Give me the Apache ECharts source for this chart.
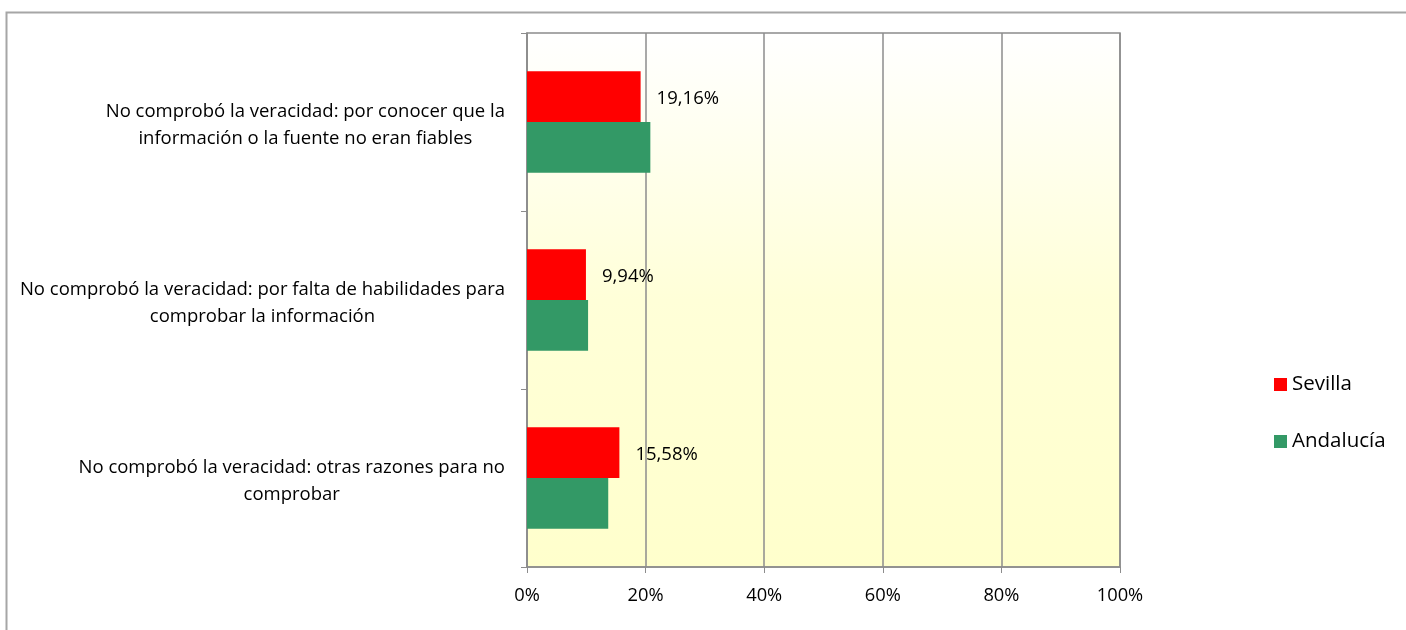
<!DOCTYPE html>
<html>
<head>
<meta charset="utf-8">
<script src="https://cdn.jsdelivr.net/npm/echarts@6/dist/echarts.min.js"></script>
<style>
html,body{margin:0;padding:0;background:#fff;}
#chart{width:1406px;height:630px;}
</style>
</head>
<body>
<div id="chart"></div>
<script>
const categories = [
  'No comprobó la veracidad: por conocer que la\ninformación o la fuente no eran fiables',
  'No comprobó la veracidad: por falta de habilidades para\ncomprobar la información',
  'No comprobó la veracidad: otras razones para no\ncomprobar'
];
const sevilla = [19.16, 9.94, 15.58];
const andalucia = [20.8, 10.3, 13.7];
const xTicks = [0, 20, 40, 60, 80, 100];

const FONT = 'Open Sans';
const chart = echarts.init(document.getElementById('chart'));
chart.setOption({
  animation: false,
  textStyle: { fontFamily: FONT },
  graphic: [{
    type: 'rect', left: 4, top: 10, z: -10,
    shape: { width: 1440, height: 660 },
    style: { fill: 'none', stroke: '#a6a6a6', lineWidth: 2 }
  }],
  grid: {
    left: 527, right: 286, top: 33, bottom: 63,
    show: true, borderColor: '#8c8c8c', borderWidth: 1.5,
    backgroundColor: {
      type: 'linear', x: 0, y: 0, x2: 0, y2: 1,
      colorStops: [{ offset: 0, color: '#ffffff' }, { offset: 0.5, color: '#ffffd8' }, { offset: 1, color: '#ffffcc' }]
    }
  },
  legend: {
    orient: 'vertical', left: 1269, top: 369,
    itemWidth: 13, itemHeight: 13, itemGap: 36, icon: 'rect',
    textStyle: { fontFamily: FONT, fontSize: 20.5, color: '#000' },
    data: ['Sevilla', 'Andalucía']
  },
  xAxis: {
    type: 'value', min: 0, max: 100, interval: 20,
    axisLine: { show: true, lineStyle: { color: '#8c8c8c', width: 1.5 } },
    axisTick: { show: true, length: 6, lineStyle: { color: '#8c8c8c' } },
    splitLine: { show: true, lineStyle: { color: '#8c8c8c', width: 1.5 } },
    axisLabel: { formatter: v => xTicks.includes(v) ? v + '%' : '', fontSize: 18.3, color: '#000', margin: 20, fontFamily: FONT }
  },
  yAxis: {
    type: 'category', data: categories, inverse: true,
    axisLine: { show: true, lineStyle: { color: '#8c8c8c', width: 1.5 } },
    axisTick: { show: true, length: 6, lineStyle: { color: '#8c8c8c' } },
    axisLabel: {
      margin: 22, color: '#000', fontSize: 18.5, fontFamily: FONT, lineHeight: 27, align: 'right',
      padding: [6, 0, 0, 0],
      formatter: v => v.split('\n').map(l => '{c|' + l + '}').join('\n'),
      rich: { c: { align: 'center', fontSize: 18.5, fontFamily: FONT, lineHeight: 27, color: '#000' } }
    }
  },
  series: [
    {
      name: 'Sevilla', type: 'bar', data: sevilla,
      barGap: '0%', barCategoryGap: '43%',
      itemStyle: { color: '#ff0000' },
      label: {
        show: true, position: 'right', distance: 16, offset: [0, 2], color: '#000', fontSize: 18.5, fontFamily: FONT,
        formatter: p => p.value.toFixed(2).replace('.', ',') + '%'
      }
    },
    {
      name: 'Andalucía', type: 'bar', data: andalucia,
      barGap: '0%', barCategoryGap: '43%',
      itemStyle: { color: '#339966' }
    }
  ]
});
</script>
</body>
</html>
